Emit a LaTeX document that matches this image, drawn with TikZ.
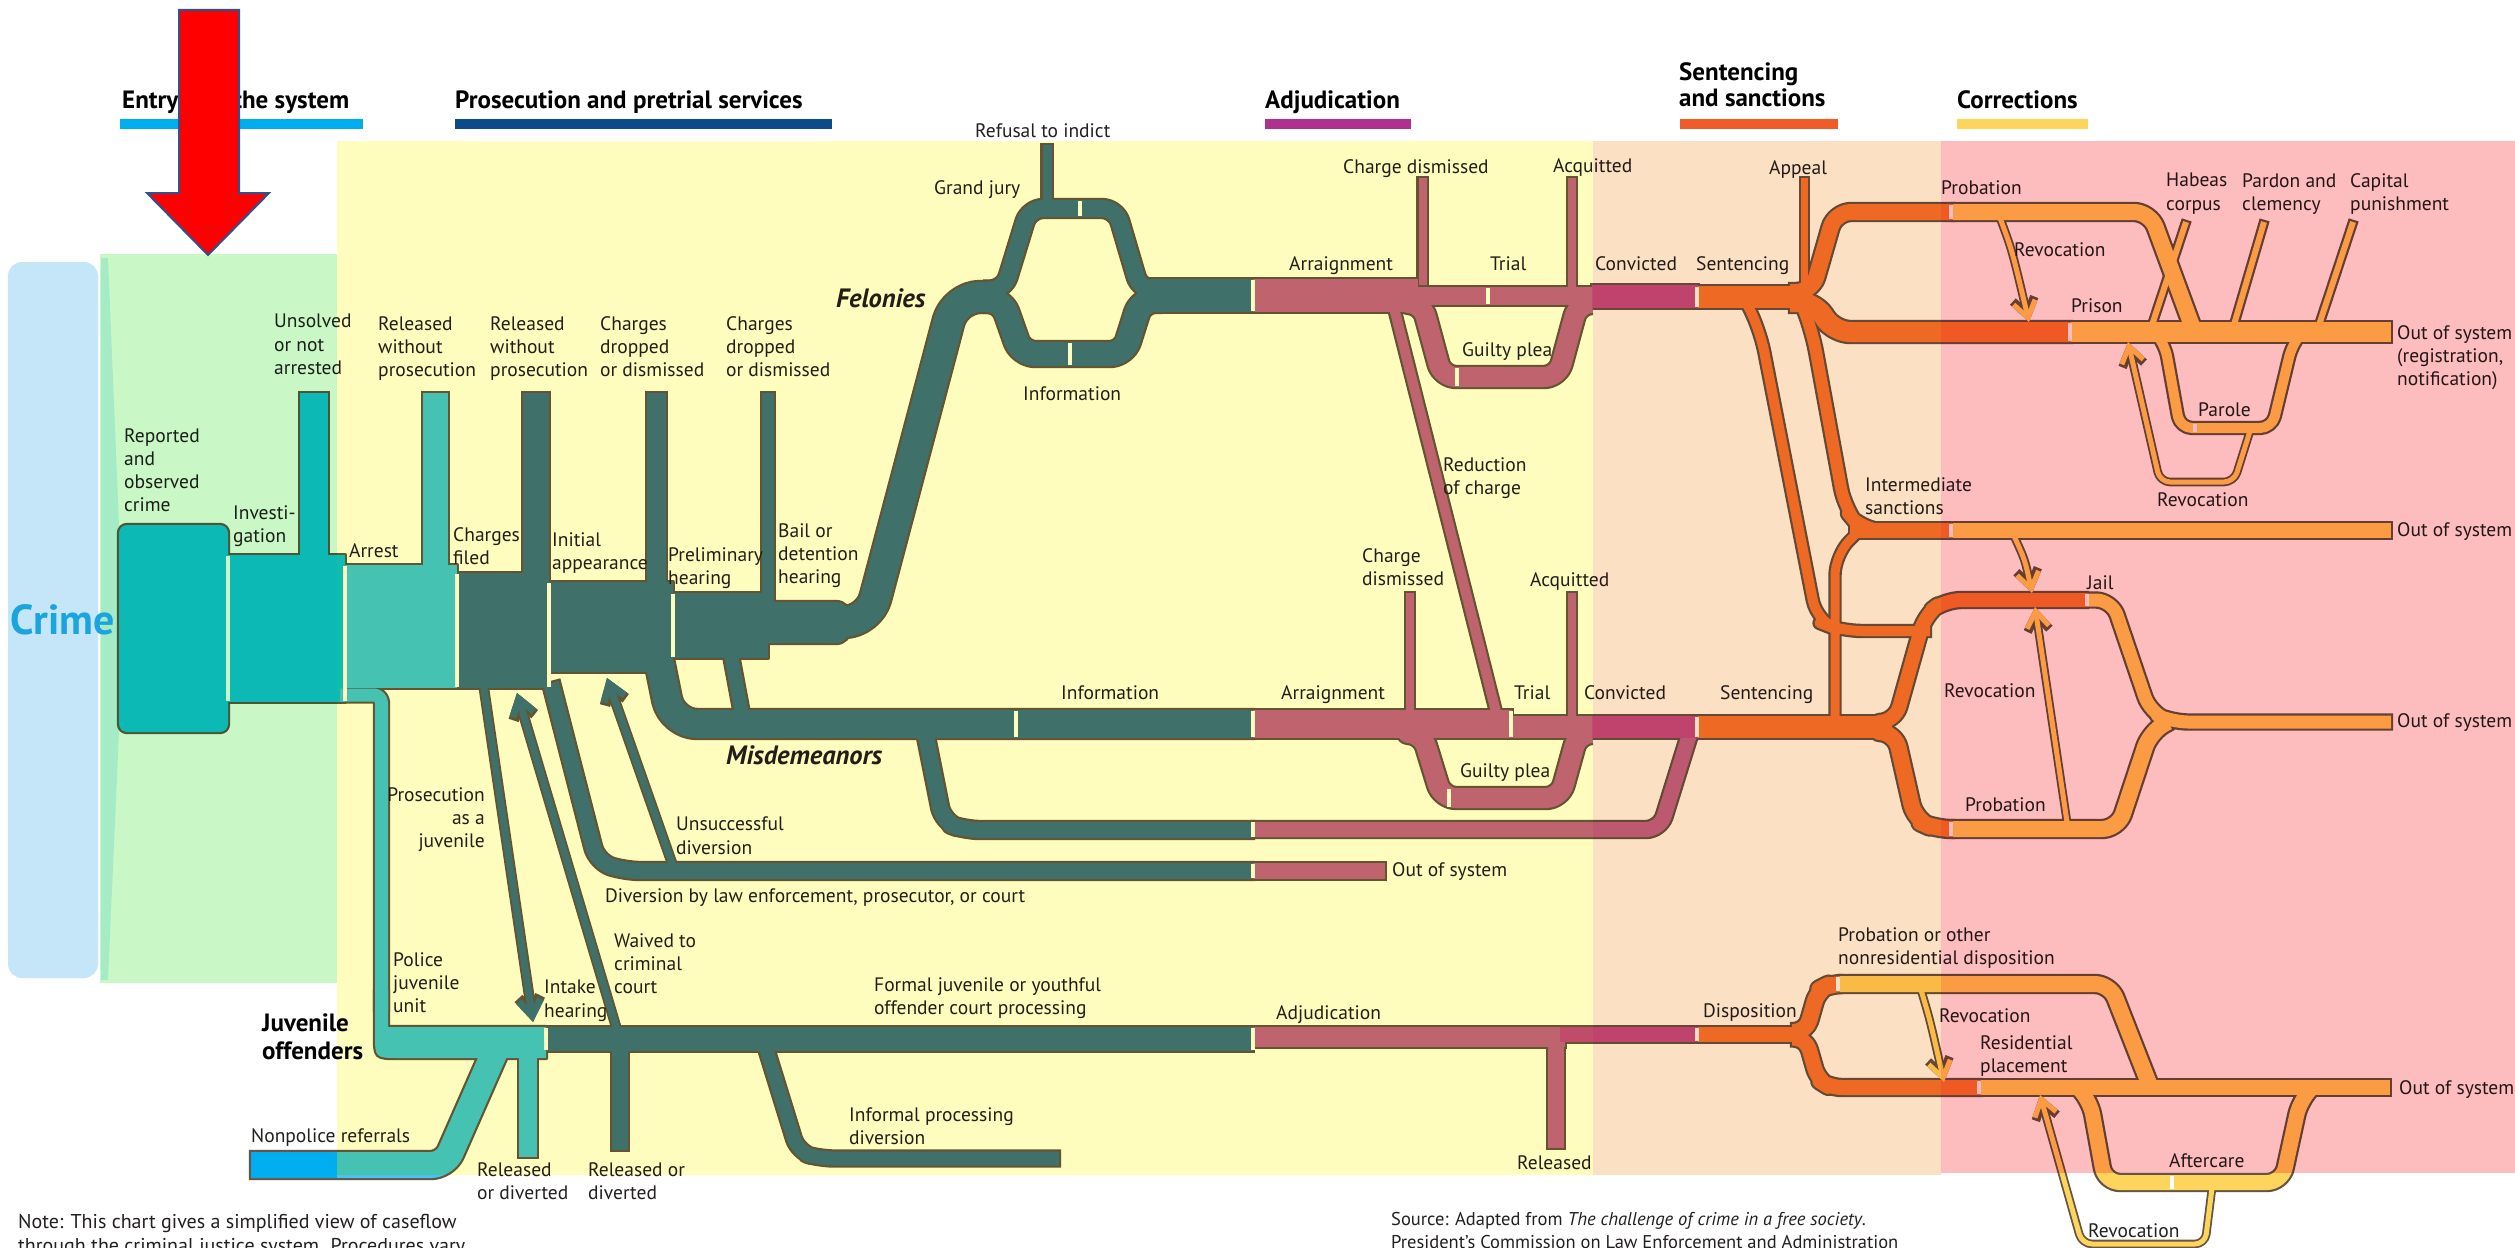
\documentclass[tikz,border=0pt]{standalone}
\usepackage{fontspec}
\setmainfont{PT Sans}
\usetikzlibrary{arrows.meta}

\definecolor{edgec}{HTML}{665544}
\definecolor{cEntry}{HTML}{10BFE8}
\definecolor{cArrest}{HTML}{46C4EE}
\definecolor{cNonpol}{HTML}{00AEEF}
\definecolor{cPros}{HTML}{40718E}
\definecolor{cAdj}{HTML}{C06594}
\definecolor{cConv}{HTML}{C24D8F}
\definecolor{cSent}{HTML}{F17930}
\definecolor{cCorr}{HTML}{FDD45C}
\definecolor{txt}{HTML}{231F20}
\definecolor{bgBlue}{HTML}{C5E6F9}
\definecolor{bgGreen}{HTML}{C9F8C6}
\definecolor{bgYellow}{HTML}{FEFDBE}
\definecolor{bgPeach}{HTML}{FCE0C4}
\definecolor{bgPink}{HTML}{FDBCBE}
\definecolor{mint}{HTML}{D2F2FF}
\definecolor{crimec}{HTML}{1BA5DF}
\definecolor{hEntry}{HTML}{00AEEF}
\definecolor{hPros}{HTML}{0B4A8B}
\definecolor{hAdj}{HTML}{B0308F}
\definecolor{hSent}{HTML}{F15A29}
\definecolor{hCorr}{HTML}{FDD45C}
\definecolor{arrowred}{HTML}{FF0000}
\definecolor{arrowedge}{HTML}{2F528F}

% Two passes: first every outline, then every fill, so branches merge cleanly
\newif\ifedgepass
\newcommand\band[4][]{%
  \ifedgepass
    \draw[#1,draw=edgec,line width=#3pt+4.4pt,shorten <=-2.2pt,shorten >=-2.2pt] #4;
  \else
    \draw[#1,draw=#2,line width=#3pt] #4;
  \fi}
\newcommand\blk[3][]{%
  \ifedgepass
    \draw[#1,draw=edgec,line width=4.4pt] #3;
  \else
    \fill[#1,#2] #3;
  \fi}
\newcommand\arr[4][]{%
  \ifedgepass
    \draw[#1,draw=edgec,line width=#3pt+3.6pt,-{Straight Barb[length=16pt,width=22pt]}] #4;
  \else
    \draw[#1,draw=#2,line width=#3pt,-{Straight Barb[length=16pt,width=22pt]}] #4;
  \fi}
\newcommand\sep[3]{\draw[white,line width=3.5pt] (#1,#2) -- (#1,#3);}

\newcommand\flowlist{%
% ---- entry into the system
\blk[rounded corners=8pt]{cEntry}{(119,525) rectangle (228,732)}
\blk{cEntry}{(228,555) rectangle (345,702)}
\band{cEntry}{28}{(314,393) -- (314,560)}
\blk{cArrest}{(345,565) rectangle (457,688)}
\band{cArrest}{25}{(435.5,393) -- (435.5,570)}
\band[rounded corners=8pt]{cArrest}{13}{(340,695) -- (381.5,695) -- (381.5,1010)}
\blk{cArrest}{(375,990) -- (375,1034) .. controls (375,1058) .. (399,1058) -- (546,1058) -- (546,1027) -- (388,1027) -- (388,990) -- cycle}
\band[rounded corners=14pt]{cArrest}{26}{(251,1165) -- (445,1165) -- (500,1040)}
\band{cArrest}{18}{(528,1050) -- (528,1157)}
% ---- prosecution and pretrial
\blk{cPros}{(457,573) rectangle (549,688)}
\band{cPros}{26}{(536,393) -- (536,580)}
\blk{cPros}{(549,582) rectangle (673,672)}
\band{cPros}{19}{(656.5,393) -- (656.5,590)}
\blk{cPros}{(673,593) rectangle (768,658)}
\band{cPros}{12}{(768,393) -- (768,605)}
\blk[rounded corners=14pt]{cPros}{(740,602) rectangle (850,643)}
\band[rounded corners=25pt]{cPros}{30}{(800,622) -- (869,622) -- (955,297) -- (1005,297)}
\band[rounded corners=25pt]{cPros}{28}{(659,660) -- (672,724) -- (1253,724)}
\band{cPros}{14}{(730,650) -- (742,714)}
\band[rounded corners=15pt]{cPros}{16}{(925,732) -- (943,822) -- (965,830) -- (1253,830)}
\band[rounded corners=15pt]{cPros}{16}{(551,683) -- (597,862) -- (625,871) -- (1253,871)}
\band[rounded corners=14pt]{cPros}{17}{(985,290) -- (1004,290) -- (1029,208.5) -- (1116,208.5) -- (1140,290) -- (1160,290)}
\band[rounded corners=14pt]{cPros}{24}{(985,300) -- (1002,300) -- (1021,354) -- (1124,354) -- (1141,300) -- (1160,300)}
\band{cPros}{9}{(1047,145) -- (1047,208)}
\band{cPros}{33}{(1137,295.5) -- (1253,295.5)}
\band{cPros}{24}{(546,1039) -- (1253,1039)}
\band{cPros}{16}{(620,1045) -- (620,1150)}
\band[rounded corners=14pt]{cPros}{14}{(765,1045) -- (798,1152) -- (820,1158.5) -- (1059,1158.5)}
% ---- adjudication
\band{cAdj}{33}{(1253,295.5) -- (1418,295.5)}
\band{cAdj}{8}{(1422.5,178) -- (1422.5,285)}
\band{cAdj}{18}{(1416,296) -- (1594,296)}
\band{cAdj}{8}{(1572,178) -- (1572,292)}
\band[rounded corners=14pt]{cAdj}{20}{(1410,303) -- (1422,303) -- (1442,377) -- (1558,377) -- (1578,303) -- (1592,303)}
\band{cAdj}{10}{(1394,308) -- (1497,716)}
\band{cAdj}{28}{(1253,724) -- (1512,724)}
\band{cAdj}{8}{(1410,593) -- (1410,715)}
\band{cAdj}{22}{(1510,727) -- (1594,727)}
\band{cAdj}{8}{(1572,593) -- (1572,720)}
\band[rounded corners=14pt]{cAdj}{20}{(1410,733) -- (1422,733) -- (1442,798) -- (1560,798) -- (1578,733) -- (1592,733)}
\band[rounded corners=14pt]{cAdj}{15}{(1253,829.5) -- (1660,829.5) -- (1690,733)}
\band{cAdj}{16}{(1253,871) -- (1385,871)}
\band{cAdj}{20}{(1253,1037) -- (1565,1037)}
\band{cAdj}{16}{(1556,1040) -- (1556,1148)}
\band{cConv}{23}{(1592,296.5) -- (1698,296.5)}
\band{cConv}{22}{(1592,727) -- (1698,727)}
\band{cConv}{15}{(1560,1034.5) -- (1698,1034.5)}
% ---- sentencing and sanctions
\band{cSent}{22}{(1698,297) -- (1802,297)}
\band{cSent}{7}{(1804.5,178) -- (1804.5,292)}
\band[rounded corners=16pt]{cSent}{16}{(1790,292) -- (1812,292) -- (1835,212) -- (1953,212)}
\band[rounded corners=16pt]{cSent}{20}{(1790,302) -- (1814,302) -- (1834,332) -- (2071,332)}
\band[rounded corners=22pt]{cSent}{10}{(1745,300) -- (1760,330) -- (1817,622) -- (1840,631) -- (1930,631)}
\band[rounded corners=22pt]{cSent}{12}{(1800,300) -- (1812,330) -- (1845,510) -- (1862,530.5) -- (1953,530.5)}
\band{cSent}{15}{(1850,530.5) -- (1953,530.5)}
\band[rounded corners=20pt]{cSent}{9}{(1835,725) -- (1835,555) -- (1860,530)}
\band{cSent}{22}{(1698,727) -- (1892,727)}
\band[rounded corners=16pt]{cSent}{14}{(1880,722) -- (1895,722) -- (1925,615) -- (1945,600) -- (2087,600)}
\band[rounded corners=16pt]{cSent}{16}{(1880,732) -- (1895,732) -- (1915,820) -- (1935,829) -- (1953,829)}
\band{cSent}{15}{(1698,1034.5) -- (1802,1034.5)}
\band[rounded corners=12pt]{cSent}{16}{(1792,1032) -- (1806,1032) -- (1818,990) -- (1830,984) -- (1840,984)}
\band[rounded corners=12pt]{cSent}{15}{(1792,1038) -- (1806,1038) -- (1818,1080) -- (1830,1087.5) -- (1981,1087.5)}
% ---- corrections
\band[rounded corners=16pt]{cCorr}{16}{(1953,212) -- (2150,212) -- (2195,334)}
\band{cCorr}{20}{(2071,332) -- (2391,332)}
\band[rounded corners=12pt]{cCorr}{10}{(2157,335) -- (2165,345) -- (2180,428) -- (2272,428) -- (2292,345) -- (2300,335)}
\band{cCorr}{6}{(2151,328) -- (2186,222)}
\band{cCorr}{6}{(2233,328) -- (2264,222)}
\band{cCorr}{6}{(2318,328) -- (2353,222)}
\band{cCorr}{15}{(1953,530.5) -- (2391,530.5)}
\band[rounded corners=16pt]{cCorr}{13}{(2087,600) -- (2112,600) -- (2150,712) -- (2172,722) -- (2391,722)}
\band[rounded corners=16pt]{cCorr}{16}{(1953,829) -- (2118,829) -- (2150,732) -- (2168,722)}
\band[rounded corners=15pt]{cCorr}{16}{(1840,984) -- (2110,984) -- (2150,1086)}
\band{cCorr}{15}{(1981,1087.5) -- (2390,1087.5)}
\band[rounded corners=15pt]{cCorr}{15}{(2080,1090) -- (2090,1100) -- (2105,1182.5) -- (2282,1182.5) -- (2300,1100) -- (2310,1090)}
% ---- returning and crossing arrows
\arr{cPros}{7}{(483,682) -- (533,1022)}
\arr{cPros}{7}{(617,1030) -- (517,693)}
\arr{cPros}{7}{(673,866) -- (607,678)}
\arr{cCorr}{5}{(2000,218) .. controls (2012,250) .. (2029,322)}
\arr{cCorr}{5}{(2014,536) .. controls (2025,560) .. (2032,593)}
\arr{cCorr}{5}{(2067,822) -- (2035,607)}
\arr[rounded corners=10pt]{cCorr}{5}{(2250,431) -- (2234,482) -- (2160,482) -- (2128,342)}
\arr{cCorr}{5}{(1921,990) .. controls (1930,1020) .. (1944,1082)}
\arr[rounded corners=10pt]{cCorr}{5}{(2212,1188) -- (2205,1244) -- (2082,1244) -- (2040,1095)}
}

\tikzset{
  lbl/.style={anchor=north west, inner sep=0pt, align=left, text=txt,
    font=\fontsize{19.5}{23.3}\selectfont},
  head/.style={anchor=base west, inner sep=0pt, align=left, text=black,
    font=\bfseries\fontsize{25}{26}\selectfont},
  bold lbl/.style={lbl, font=\bfseries\itshape\fontsize{26.5}{30}\selectfont},
}

\begin{document}
\begin{tikzpicture}[x=1pt,y=-1pt,line join=round]
\useasboundingbox (0,0) rectangle (2515,1247);
\clip (0,0) rectangle (2515,1247);
\fill[white] (0,0) rectangle (2515,1247);

% crime panel and the widening stream of reported crime
\fill[bgBlue, rounded corners=14pt] (8,262) rectangle (98,978);
\fill[mint] (101,258) -- (108,258) -- (119,525) -- (119,732) -- (108,980) -- (101,980) -- cycle;

% the flows
\edgepasstrue \flowlist
\edgepassfalse \flowlist
% nonpolice referrals enter from outside the panels
\fill[cNonpol] (251,1152) rectangle (337,1178);

% stage separators
\sep{228}{556}{701} \sep{345}{566}{701} \sep{457}{574}{687}
\sep{549}{583}{687} \sep{673}{594}{657} \sep{546}{1028}{1050}
\sep{1016}{711}{737} \sep{1080}{201}{216} \sep{1070}{343}{365}
\sep{1253}{280}{311} \sep{1253}{711}{737} \sep{1253}{822}{837}
\sep{1253}{864}{878} \sep{1253}{1028}{1050}
\sep{1488}{288}{304} \sep{1457}{368}{386} \sep{1511}{711}{737}
\sep{1449}{789}{807}
\sep{1697}{287}{307} \sep{1697}{717}{737} \sep{1697}{1028}{1041}
\sep{1951}{205}{219} \sep{1951}{524}{537} \sep{1951}{822}{836}
\sep{2070}{323}{341} \sep{2087}{594}{606} \sep{2195}{424}{432}
\sep{1838}{977}{991} \sep{1979}{1081}{1094} \sep{2172}{1176}{1189}

% labels: entry and prosecution
\node[lbl] (reported) at (124,428) {Reported\\and\\observed\\crime};
\node[lbl] (investigation) at (233,505) {Investi-\\gation};
\node[lbl] (unsolved) at (274,314) {Unsolved\\or not\\arrested};
\node[lbl] (arrest) at (349,543) {Arrest};
\node[lbl] (relA) at (378,316) {Released\\without\\prosecution};
\node[lbl] (relB) at (490,316) {Released\\without\\prosecution};
\node[lbl] (dropA) at (600,316) {Charges\\dropped\\or dismissed};
\node[lbl] (dropB) at (726,316) {Charges\\dropped\\or dismissed};
\node[lbl] (filed) at (453,527) {Charges\\filed};
\node[lbl] (initial) at (552,532) {Initial\\appearance};
\node[lbl] (prelim) at (668,547) {Preliminary\\hearing};
\node[lbl] (bail) at (778,523) {Bail or\\detention\\hearing};
\node[bold lbl] (felonies) at (836,288) {Felonies};
\node[bold lbl] (misdemeanors) at (726,745) {Misdemeanors};
\node[lbl, anchor=north east, align=right] (asjuv) at (485,787) {Prosecution\\as a\\juvenile};
\node[lbl] (unsucc) at (676,817) {Unsuccessful\\diversion};
\node[lbl] (diversion) at (605,888) {Diversion by law enforcement, prosecutor, or court};
\node[lbl] (police) at (393,952) {Police\\juvenile\\unit};
\node[lbl] (intake) at (544,980) {Intake\\hearing};
\node[lbl] (waived) at (614,933) {Waived to\\criminal\\court};
\node[lbl] (formal) at (874,977) {Formal juvenile or youthful\\offender court processing};
\node[lbl, font=\bfseries\fontsize{25}{28}\selectfont, text=black] (juvenile) at (262,1014) {Juvenile\\offenders};
\node[lbl] (nonpolice) at (251,1128) {Nonpolice referrals};
\node[lbl] (reldivA) at (477,1162) {Released\\or diverted};
\node[lbl] (reldivB) at (588,1162) {Released or\\diverted};
\node[lbl] (informal) at (849,1107) {Informal processing\\diversion};
\node[lbl] (refusal) at (975,123) {Refusal to indict};
\node[lbl] (grandjury) at (934,180) {Grand jury};
\node[lbl] (infoF) at (1023,386) {Information};
% labels: adjudication
\node[lbl] (arrF) at (1289,256) {Arraignment};
\node[lbl] (dismF) at (1343,159) {Charge dismissed};
\node[lbl] (acqF) at (1553,158) {Acquitted};
\node[lbl] (trialF) at (1490,256) {Trial};
\node[lbl] (convF) at (1595,256) {Convicted};
\node[lbl] (pleaF) at (1462,342) {Guilty plea};
\node[lbl] (reduction) at (1443,457) {Reduction\\of charge};
\node[lbl] (infoM) at (1061,685) {Information};
\node[lbl] (arrM) at (1281,685) {Arraignment};
\node[lbl] (dismM) at (1362,548) {Charge\\dismissed};
\node[lbl] (acqM) at (1530,572) {Acquitted};
\node[lbl] (trialM) at (1514,685) {Trial};
\node[lbl] (convM) at (1584,685) {Convicted};
\node[lbl] (pleaM) at (1460,763) {Guilty plea};
\node[lbl] (outDiv) at (1392,862) {Out of system};
\node[lbl] (adjJ) at (1276,1005) {Adjudication};
\node[lbl] (relJ) at (1517,1155) {Released};
% labels: sentencing and corrections
\node[lbl] (sentF) at (1696,256) {Sentencing};
\node[lbl] (appeal) at (1769,160) {Appeal};
\node[lbl] (probF) at (1941,180) {Probation};
\node[lbl] (revA) at (2014,242) {Revocation};
\node[lbl] (prison) at (2071,298) {Prison};
\node[lbl] (habeas) at (2166,173) {Habeas\\corpus};
\node[lbl] (pardon) at (2242,173) {Pardon and\\clemency};
\node[lbl] (capital) at (2350,173) {Capital\\punishment};
\node[lbl] (outPrison) at (2397,325) {Out of system\\(registration,\\notification)};
\node[lbl] (parole) at (2198,402) {Parole};
\node[lbl] (revB) at (2157,492) {Revocation};
\node[lbl] (intermediate) at (1865,477) {Intermediate\\sanctions};
\node[lbl] (outInter) at (2397,522) {Out of system};
\node[lbl] (jail) at (2087,575) {Jail};
\node[lbl] (revC) at (1944,683) {Revocation};
\node[lbl] (outJail) at (2397,713) {Out of system};
\node[lbl] (probM) at (1965,797) {Probation};
\node[lbl] (sentM) at (1720,685) {Sentencing};
\node[lbl] (disposition) at (1703,1003) {Disposition};
\node[lbl] (nonres) at (1838,927) {Probation or other\\nonresidential disposition};
\node[lbl] (revD) at (1939,1008) {Revocation};
\node[lbl] (residential) at (1980,1035) {Residential\\placement};
\node[lbl] (outJuv) at (2399,1080) {Out of system};
\node[lbl] (aftercare) at (2169,1153) {Aftercare};
\node[lbl] (revE) at (2088,1223) {Revocation};

% tinted stage panels laid over the chart
\begin{scope}[blend mode=multiply]
\fill[bgGreen] (100,254) rectangle (337,983);
\fill[bgYellow] (337,141) rectangle (1593,1175);
\fill[bgPeach] (1593,141) rectangle (1941,1175);
\fill[bgPink] (1941,141) rectangle (2515,1173);
\end{scope}

\node[anchor=west, inner sep=0pt, text=crimec, font=\bfseries\fontsize{42}{42}\selectfont] (crime) at (10,620) {Crime};

% stage headings
\node[head] (hEntryT) at (122,108) {Entry into the system};
\fill[hEntry] (120,119) rectangle (363,129);
\node[head] (hProsT) at (455,108) {Prosecution and pretrial services};
\fill[hPros] (455,119) rectangle (832,129);
\node[head] (hAdjT) at (1265,108) {Adjudication};
\fill[hAdj] (1265,119) rectangle (1411,129);
\node[head, anchor=north west] (hSentT) at (1679,62) {Sentencing\\and sanctions};
\fill[hSent] (1680,119) rectangle (1838,129);
\node[head] (hCorrT) at (1957,108) {Corrections};
\fill[hCorr] (1957,119) rectangle (2088,129);

% pointer arrow
\draw[fill=arrowred, draw=arrowedge, line width=2pt, line join=miter]
  (179,10) -- (239,10) -- (239,193) -- (269,193) -- (208,255) -- (147,193) -- (179,193) -- cycle;

% notes
\node[lbl, font=\fontsize{20}{24}\selectfont] (note) at (18,1214)
  {Note: This chart gives a simplified view of caseflow\\through the criminal justice system. Procedures vary};
\node[lbl, font=\fontsize{18.5}{23}\selectfont] (source) at (1391,1212)
  {Source: Adapted from \textit{The challenge of crime in a free society}.\\President's Commission on Law Enforcement and Administration};
\end{tikzpicture}
\end{document}
